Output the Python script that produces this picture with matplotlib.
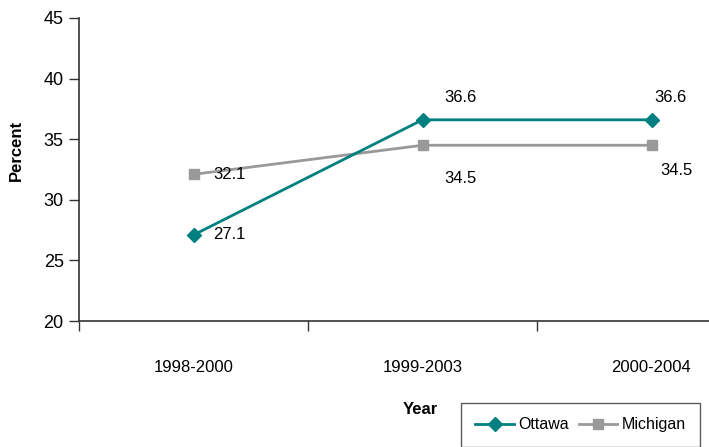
import matplotlib.pyplot as plt
from matplotlib.lines import Line2D

plt.rcParams['font.family'] = ['Liberation Sans', 'DejaVu Sans']

periods = ['1998-2000', '1999-2003', '2000-2004']
ottawa = [27.1, 36.6, 36.6]
michigan = [32.1, 34.5, 34.5]

teal = '#008080'
grey = '#999999'

fig = plt.figure(figsize=(7.09, 4.47), dpi=100)
# axis runs past the right edge of the figure
ax = fig.add_axes([79 / 709, 126 / 447, 687 / 709, 303 / 447])

xs = range(len(periods))
ax.plot(xs, michigan, color=grey, lw=2, marker='s', ms=7.5, label='Michigan', zorder=3)
ax.plot(xs, ottawa, color=teal, lw=2, marker='D', ms=7.5, label='Ottawa', zorder=4)

# value labels
ax.annotate(f'{ottawa[0]}', (0, ottawa[0]), xytext=(14, 0), textcoords='offset points',
            va='center', fontsize=12)
ax.annotate(f'{michigan[0]}', (0, michigan[0]), xytext=(14, 0), textcoords='offset points',
            va='center', fontsize=12)
for i in (1, 2):
    ax.annotate(f'{ottawa[i]}', (i, ottawa[i]), xytext=(16 if i == 1 else 2, 16),
                textcoords='offset points', va='center', fontsize=12)
ax.annotate(f'{michigan[1]}', (1, michigan[1]), xytext=(16, -24), textcoords='offset points',
            va='center', fontsize=12)
ax.annotate(f'{michigan[2]}', (2, michigan[2]), xytext=(6, -18), textcoords='offset points',
            va='center', fontsize=12)

ax.set_xlim(-0.5, 2.5)
ax.set_ylim(20, 45)
ax.set_yticks(range(20, 46, 5))
ax.set_xticks([-0.5, 0.5, 1.5, 2.5])
ax.set_xticklabels([])
ax.set_xticks(list(xs), minor=True)
ax.set_xticklabels(periods, minor=True, fontsize=12)
ax.tick_params(axis='x', which='minor', length=0, pad=28)
ax.tick_params(axis='x', which='major', length=7, width=1, color='#333333', direction='out')
ax.tick_params(axis='y', length=7, width=1, color='#333333', labelsize=13, pad=4)

for side in ('top', 'right'):
    ax.spines[side].set_visible(False)
for side in ('left', 'bottom'):
    ax.spines[side].set_color('#333333')
    ax.spines[side].set_linewidth(1.2)

fig.text(16 / 709, 1 - 150 / 447, 'Percent', rotation=90, ha='center', va='center',
         fontsize=12, fontweight='bold')
fig.text(420 / 709, 1 - 410 / 447, 'Year', ha='center', va='center',
         fontsize=12, fontweight='bold')

handles = [Line2D([], [], color=teal, lw=2, marker='D', ms=7.5),
           Line2D([], [], color=grey, lw=2, marker='s', ms=7.5)]
leg = fig.legend(handles, ['Ottawa', 'Michigan'], loc='upper left',
                 bbox_to_anchor=(461 / 709, 1 - 403 / 447), ncol=2, fontsize=11.5,
                 frameon=True, fancybox=False, borderpad=0.9, handlelength=2.4,
                 columnspacing=0.6, handletextpad=0.3, borderaxespad=0)
leg.get_frame().set_edgecolor('#333333')
leg.get_frame().set_linewidth(1)

fig.savefig('out.png', dpi=100)
